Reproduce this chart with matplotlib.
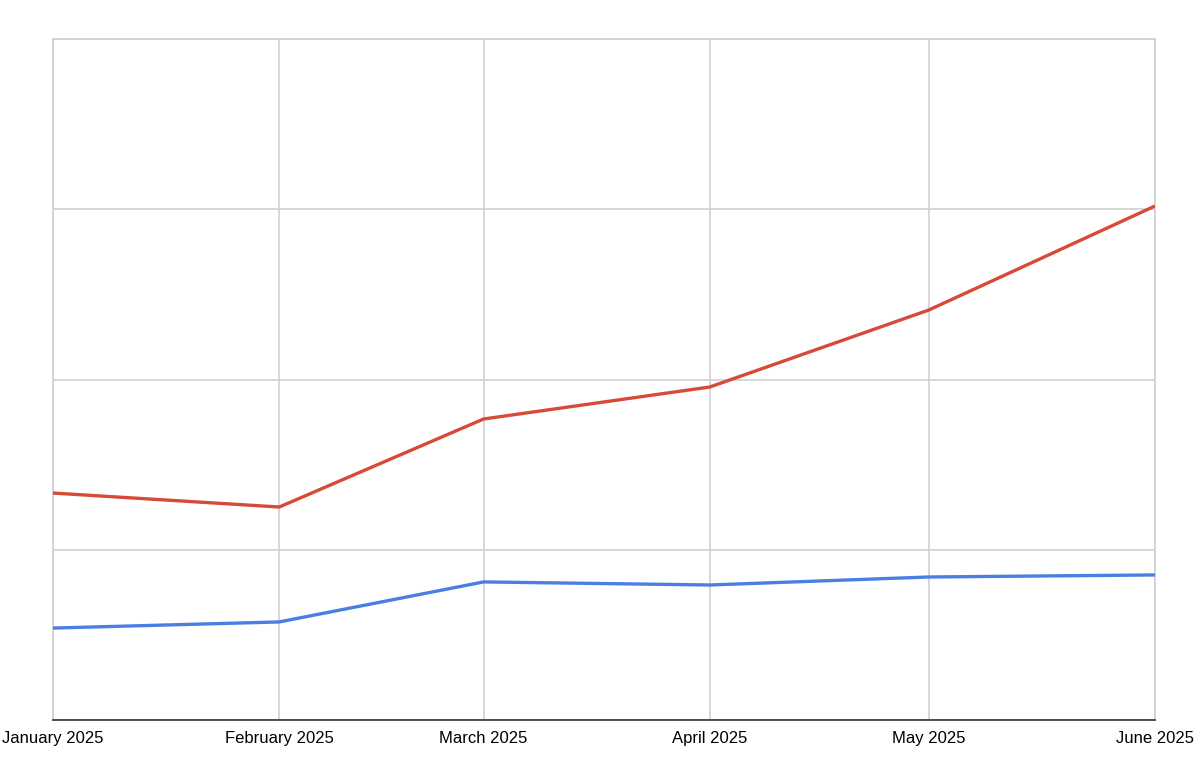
import matplotlib
matplotlib.use("Agg")
import matplotlib.pyplot as plt
import matplotlib.dates as mdates
import numpy as np
from datetime import date

months = ["2025-01-01", "2025-02-01", "2025-03-01", "2025-04-01", "2025-05-01", "2025-06-01"]
month_labels = ["January 2025", "February 2025", "March 2025", "April 2025", "May 2025", "June 2025"]
red_values = [1.333, 1.251, 1.768, 1.956, 2.408, 3.019]
blue_values = [0.540, 0.576, 0.811, 0.793, 0.840, 0.852]
y_grid = [0, 1, 2, 3, 4]

plt.rcParams['font.family'] = ['Liberation Sans', 'DejaVu Sans']
x = [date.fromisoformat(m) for m in months]

fig = plt.figure(figsize=(12, 7.62), dpi=100)
ax = fig.add_axes([53/1200, 1-720/762, (1155-53)/1200, (720-39)/762])

ax.plot(x, red_values, color="#d84a38", lw=2.4, solid_capstyle="butt", zorder=3)
ax.plot(x, blue_values, color="#4a7ee2", lw=2.4, solid_capstyle="butt", zorder=3)

ax.set_xlim(x[0], x[-1])
ax.set_ylim(y_grid[0], y_grid[-1])
ax.set_xticks(x)
ax.set_xticklabels(month_labels, fontsize=12)
ax.set_yticks(y_grid)
ax.set_yticklabels([])
ax.tick_params(axis="both", length=0)
ax.tick_params(axis="x", pad=8)
ax.grid(True, color="#d0d0d0", lw=1.2, zorder=0)
for s in ["top", "left", "right"]:
    ax.spines[s].set_color("#d0d0d0")
    ax.spines[s].set_linewidth(1.2)
ax.spines["bottom"].set_color("#333333")
ax.spines["bottom"].set_linewidth(1.2)
ax.set_axisbelow(True)

fig.savefig("out.png", dpi=100)
